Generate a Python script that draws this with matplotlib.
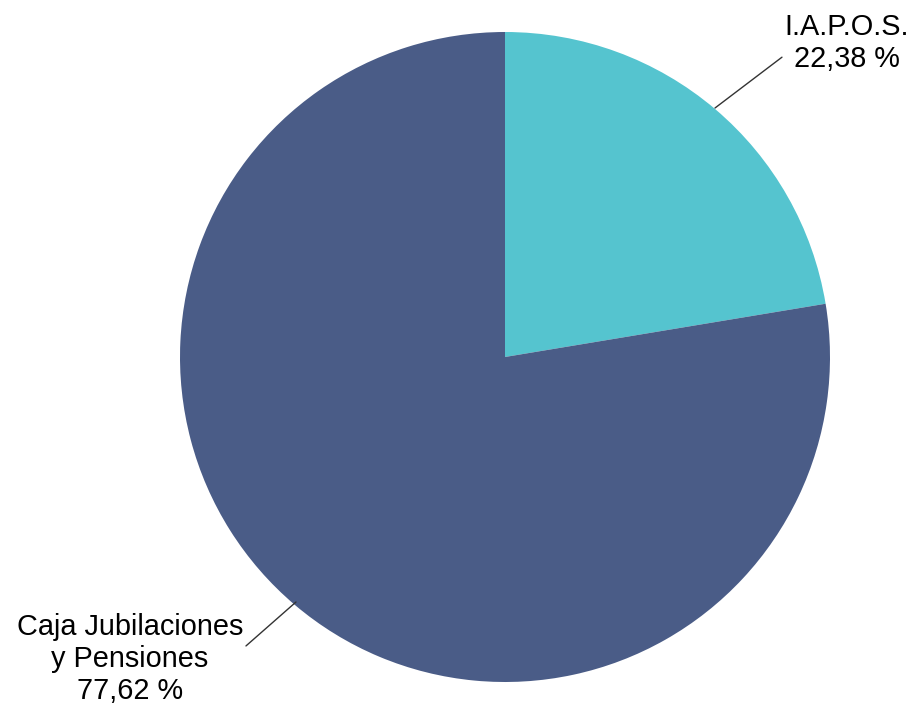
import matplotlib.pyplot as plt

# datos del grafico
labels = ['I.A.P.O.S.', 'Caja Jubilaciones\ny Pensiones']
values = [22.38, 77.62]
colors = ['#55C4CF', '#4A5C87']

plt.rcParams['font.family'] = ['Liberation Sans', 'DejaVu Sans']

fig = plt.figure(figsize=(9.16, 7.08), dpi=100)
ax = fig.add_axes([0, 0, 1, 1])
ax.pie(values, colors=colors, startangle=90, counterclock=False,
       center=(505, 351), radius=325, frame=True)
ax.set_xlim(0, 916)
ax.set_ylim(0, 708)
ax.set_aspect('equal')
ax.axis('off')

# etiquetas con linea guia
txt0 = labels[0] + '\n' + ('%.2f' % values[0]).replace('.', ',') + ' %'
ax.annotate(txt0, xy=(715, 600), xytext=(847, 665), ha='center', va='center',
            fontsize=20.8,
            arrowprops=dict(arrowstyle='-', color='#333333', lw=1,
                            shrinkA=0, shrinkB=0, relpos=(0, 0.3)))
txt1 = labels[1] + '\n' + ('%.2f' % values[1]).replace('.', ',') + ' %'
ax.annotate(txt1, xy=(296, 106), xytext=(130, 49), ha='center', va='center',
            fontsize=20.8,
            arrowprops=dict(arrowstyle='-', color='#333333', lw=1,
                            shrinkA=0, shrinkB=0, relpos=(0.97, 0.55)))

fig.savefig('out.png', dpi=100)
